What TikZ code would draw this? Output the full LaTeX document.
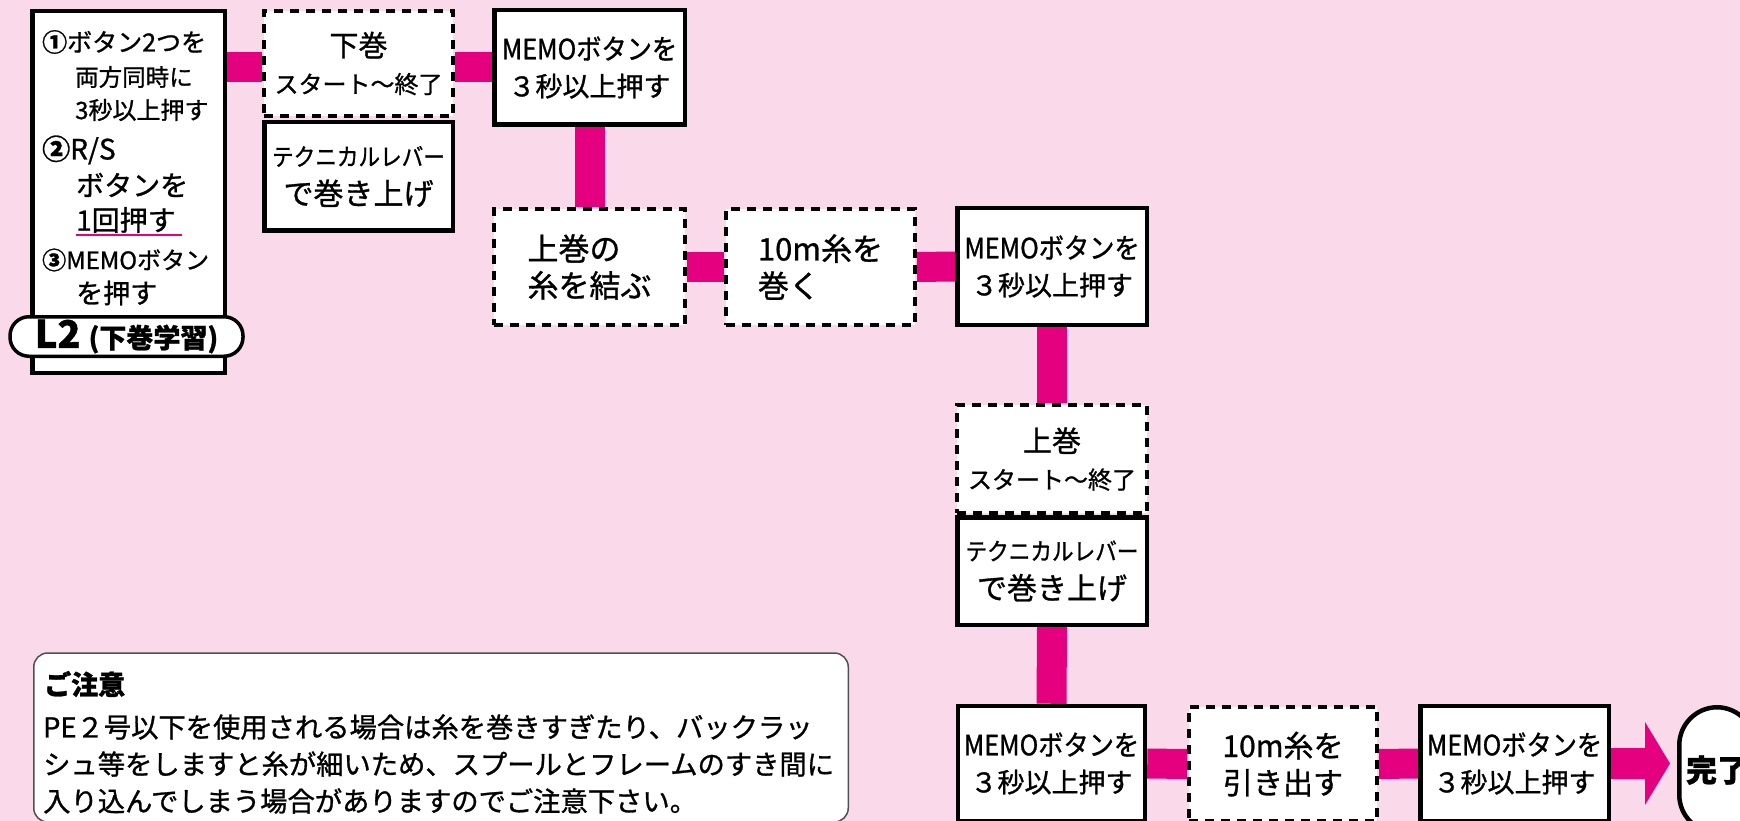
\documentclass[tikz,border=0pt]{standalone}
\usepackage{fontspec}
\setmainfont{Noto Sans CJK JP}[FakeBold=1]
\newfontfamily\cond{Noto Sans CJK JP}[FakeStretch=0.9,FakeBold=1]
\definecolor{bgpink}{RGB}{250,217,234}
\definecolor{mag}{RGB}{228,0,127}
\definecolor{notegray}{RGB}{80,80,80}
\tikzset{
  sz/.style 2 args={minimum width=#1, minimum height=#2},
  box/.style={draw=black, line width=4.5pt, fill=white, inner sep=0pt, align=center},
  dbox/.style={draw=black, line width=4pt, dash pattern=on 9pt off 7pt, fill=white, inner sep=0pt, align=center},
  conn/.style={draw=mag, line width=30pt},
  memofont/.style={font=\fontsize{27}{37}\selectfont},
  txt/.style={inner sep=0pt, anchor=west},
}
\begin{document}
\begin{tikzpicture}[x=1pt,y=-1pt]
\useasboundingbox (0,0) rectangle (1740,821);
\clip (0,0) rectangle (1740,821);
\fill[bgpink] (0,0) rectangle (1740,821);

% left instruction box
\node[box, sz={192.5pt}{361.5pt}] (lbox) at (128.5,192) {};
\node[txt, font=\fontsize{25}{30}\selectfont] (l1) at (42,42) {{\bfseries ①}ボタン2つを};
\node[txt, font=\fontsize{23.5}{30}\selectfont] (l2) at (75,77) {両方同時に};
\node[txt, font=\fontsize{24}{30}\selectfont] (l3) at (75,110) {3秒以上押す};
\node[txt, font=\fontsize{28}{30}\selectfont] (l4) at (42,150) {{\bfseries ②}R/S};
\node[txt, font=\fontsize{28}{30}\selectfont] (l5) at (76,185) {ボタンを};
\node[txt, font=\fontsize{28}{30}\selectfont] (l6) at (76,220) {1回押す};
\node[txt, font=\fontsize{24}{30}\selectfont] (l7) at (42,260) {{\bfseries ③}MEMOボタン};
\node[txt, font=\fontsize{27}{30}\selectfont] (l8) at (76,293) {を押す};
\draw[mag, line width=2.5pt] (l6.west |- 0,235) -- (182,235);
\node[draw=black, line width=3.5pt, fill=white, rounded corners=19pt, inner sep=0pt,
      minimum width=233pt, minimum height=39.5pt] (pill) at (126.5,336.5)
      {{\bfseries\fontsize{38}{38}\selectfont L2}\hspace{8pt}{\bfseries\fontsize{27}{27}\selectfont (下巻学習)}};

% top row
\node[dbox, sz={189pt}{105pt}, font=\fontsize{24}{37}\selectfont] (kaka) at (358.5,63.5)
  {{\fontsize{29}{37}\selectfont 下巻}\\スタート〜終了};
\node[box, sz={188.5pt}{108.5pt}, font=\fontsize{30}{39}\selectfont] (tech1) at (358.5,176.5)
  {{\cond\fontsize{24}{39}\selectfont テクニカルレバー}\\で巻き上げ};
\node[box, sz={190.5pt}{114.5pt}, memofont] (memo1) at (589.5,67.5)
  {{\cond\fontsize{28}{37}\selectfont MEMOボタンを}\\３秒以上押す};

% second row
\node[dbox, sz={191pt}{116pt}, align=left, font=\fontsize{31}{37}\selectfont] (ue) at (589.5,267)
  {上巻の\\糸を結ぶ};
\node[dbox, sz={189pt}{116pt}, align=left, font=\fontsize{31}{37}\selectfont] (ten1) at (820.5,267)
  {10m糸を\\巻く};
\node[box, sz={189.5pt}{116.5pt}, memofont] (memo2) at (1052,266.5)
  {{\cond\fontsize{28}{37}\selectfont MEMOボタンを}\\３秒以上押す};

% right column
\node[dbox, sz={190pt}{108pt}, font=\fontsize{24}{37}\selectfont] (kami) at (1052,459)
  {{\fontsize{29}{37}\selectfont 上巻}\\スタート〜終了};
\node[box, sz={189.5pt}{107.5pt}, font=\fontsize{30}{39}\selectfont] (tech2) at (1052,571)
  {{\cond\fontsize{24}{39}\selectfont テクニカルレバー}\\で巻き上げ};

% bottom row
\node[box, sz={187pt}{115pt}, memofont] (memo3) at (1051.5,763.5)
  {{\cond\fontsize{28}{37}\selectfont MEMOボタンを}\\３秒以上押す};
\node[dbox, sz={188pt}{114pt}, font=\fontsize{30}{37}\selectfont] (ten2) at (1283,764)
  {10m糸を\\引き出す};
\node[box, sz={188.5pt}{115pt}, memofont] (memo4) at (1514.5,763.5)
  {{\cond\fontsize{28}{37}\selectfont MEMOボタンを}\\３秒以上押す};
\node[draw=black, line width=4.5pt, fill=white, rounded corners=38pt, inner sep=0pt,
      minimum width=75.5pt, minimum height=125.5pt, font=\bfseries\fontsize{31}{31}\selectfont]
      (kanryo) at (1717,770) {完了};

% connectors
\draw[conn] (lbox.east |- memo1.west) -- (kaka.west |- memo1.west);
\draw[conn] (kaka.east |- memo1.west) -- (memo1.west);
\draw[conn] (memo1.south) -- (ue.north);
\draw[conn] (ue.east) -- (ten1.west);
\draw[conn] (ten1.east) -- (memo2.west);
\draw[conn] (memo2.south) -- (kami.north);
\draw[conn] (tech2.south) -- (memo3.north);
\draw[conn] (memo3.east) -- (ten2.west);
\draw[conn] (ten2.east) -- (memo4.west);
\fill[mag] (memo4.east) ++(0,-15.5) -- ++(34,0) -- ++(0,-26) -- ++(25,41.5)
  -- ++(-25,41.5) -- ++(0,-26) -- ++(-34,0) -- cycle;

% note
\node[draw=notegray, line width=1.5pt, fill=white, rounded corners=14pt, inner sep=0pt,
      minimum width=814.5pt, minimum height=169pt] (note) at (441,737.5) {};
\node[txt, font=\bfseries\fontsize{27}{27}\selectfont] (nt) at (44,684) {ご注意};
\node[txt, font=\fontsize{27.3}{30}\selectfont] (n1) at (43,727) {PE２号以下を使用される場合は糸を巻きすぎたり、バックラッ};
\node[txt, font=\fontsize{27.3}{30}\selectfont] (n2) at (43,764) {シュ等をしますと糸が細いため、スプールとフレームのすき間に};
\node[txt, font=\fontsize{27.3}{30}\selectfont] (n3) at (43,801) {入り込んでしまう場合がありますのでご注意下さい。};
\end{tikzpicture}
\end{document}
